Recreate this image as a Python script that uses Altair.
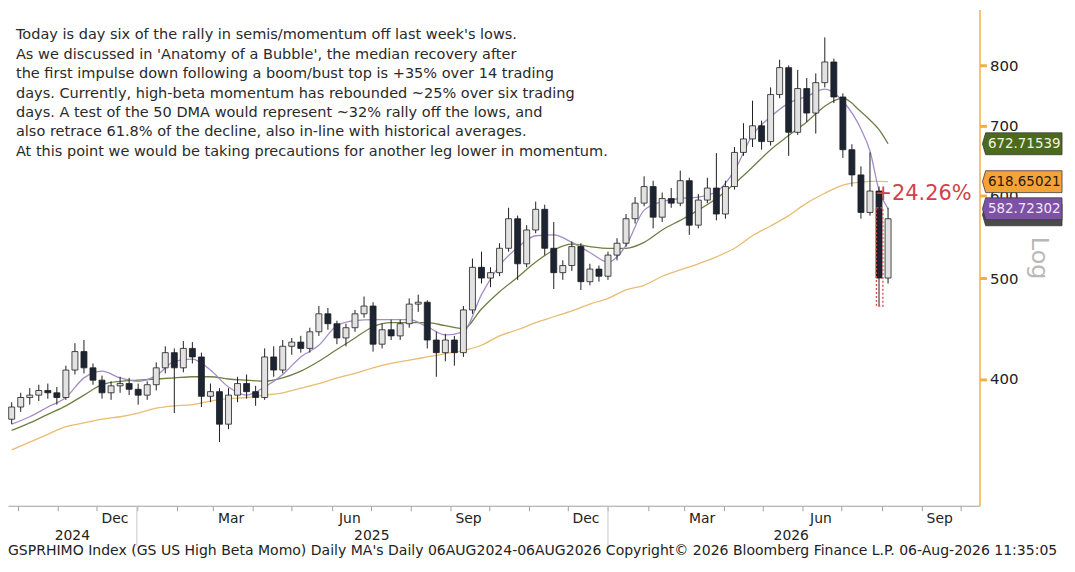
import altair as alt
import pandas as pd

FONT = "DejaVu Sans"

# ---------------- data ----------------
candle_dates = pd.date_range(end="2026-08-06", periods=98, freq="7D")

opens = [366, 376, 384, 386, 390, 388, 384, 408, 425, 410,
         399, 388, 394, 396, 391, 386, 395, 410, 424, 410,
         428, 420, 385, 389, 362, 386, 396, 389, 384, 420,
         408, 430, 434, 428, 444, 462, 452, 438, 448, 462,
         470, 432, 446, 440, 452, 472, 474, 436, 424, 436,
         424, 466, 512, 500, 506, 534, 570, 516, 556, 582,
         534, 506, 514, 536, 496, 510, 502, 526, 540, 570,
         590, 612, 572, 596, 590, 620, 562, 594, 610, 576,
         612, 660, 680, 700, 676, 750, 796, 690, 760, 720,
         770, 806, 746, 664, 628, 578, 606, 500]
highs = [380, 388, 392, 395, 396, 393, 412, 433, 436, 414,
         403, 398, 402, 401, 396, 398, 415, 430, 428, 435,
         434, 424, 396, 392, 392, 402, 404, 394, 428, 430,
         436, 438, 440, 448, 470, 468, 455, 452, 466, 480,
         474, 452, 456, 456, 478, 482, 476, 444, 442, 440,
         470, 522, 530, 512, 540, 584, 574, 562, 592, 588,
         566, 520, 542, 540, 516, 514, 530, 546, 576, 598,
         626, 620, 604, 610, 634, 624, 602, 624, 659, 620,
         668, 704, 740, 708, 762, 810, 800, 792, 778, 786,
         851, 812, 752, 672, 640, 660, 612, 584]
lows = [362, 372, 378, 381, 383, 378, 382, 404, 405, 395,
        383, 382, 388, 386, 378, 382, 390, 405, 371, 406,
        414, 376, 380, 348, 358, 380, 383, 377, 382, 402,
        405, 422, 424, 424, 440, 446, 432, 430, 444, 458,
        425, 428, 436, 436, 448, 464, 428, 402, 416, 412,
        420, 462, 494, 490, 502, 530, 498, 512, 552, 526,
        488, 498, 508, 487, 492, 496, 498, 520, 536, 564,
        586, 558, 566, 584, 586, 550, 558, 590, 568, 570,
        608, 655, 668, 664, 670, 744, 655, 686, 706, 688,
        762, 736, 652, 612, 570, 574, 470, 494]
closes = [376, 384, 386, 390, 388, 384, 408, 425, 410, 399,
          388, 394, 396, 391, 386, 395, 410, 424, 410, 428,
          420, 385, 389, 362, 386, 396, 389, 384, 420, 408,
          430, 434, 428, 444, 462, 452, 438, 448, 462, 470,
          432, 446, 440, 452, 472, 474, 436, 424, 436, 424,
          466, 512, 500, 506, 534, 570, 516, 556, 582, 534,
          506, 514, 536, 496, 510, 502, 526, 540, 570, 590,
          612, 572, 596, 590, 620, 562, 594, 610, 576, 612,
          660, 680, 700, 676, 750, 796, 690, 760, 720, 770,
          806, 746, 664, 628, 578, 606, 500, 570]

# moving averages, read at every second candle plus the last three
ma_index = list(range(0, 95, 2)) + [95, 96, 97]
ma20 = [362, 368, 376, 384, 401, 407, 401, 398, 403, 416,
        418, 408, 393, 386, 393, 404, 420, 431, 450, 455,
        456, 456, 456, 449, 441, 444, 482, 514, 535, 549,
        550, 541, 529, 518, 537, 581, 592, 596, 598, 605,
        634, 686, 714, 736, 747, 759, 739, 695,
        662, 607, 582.72302]
ma50 = [357, 363, 370, 377, 386, 395, 398, 399, 400, 401,
        402, 402, 400, 399, 398, 401, 407, 416, 427, 438,
        449, 453, 453, 453, 450, 447, 467, 485, 501, 518,
        532, 539, 536, 534, 534, 541, 556, 568, 581, 596,
        616, 639, 664, 685, 706, 731, 744, 722,
        709, 694, 672.71539]
ma200 = [342, 348, 354, 360, 363, 366, 368, 371, 375, 377,
         378, 381, 383, 384, 386, 388, 392, 396, 401, 405,
         410, 414, 417, 420, 423, 426, 431, 440, 446, 453,
         459, 465, 472, 478, 487, 492, 502, 509, 516, 524,
         534, 549, 561, 574, 590, 603, 614, 618,
         619, 619, 618.65021]

tag_values = [575.0, 672.71539, 618.65021, 582.72302]
tag_labels = ["", "672.71539", "618.65021", "582.72302"]
tag_fills = ["#4a4a4a", "#4b6a1e", "#f4a23a", "#7d52a6"]
tag_text_colors = ["#ffffff", "#eef5e0", "#2a1c08", "#efe6f7"]

y_tick_values = [400, 500, 600, 700, 800]

month_tick_dates = [alt.DateTime(year=y, month=m, date=1) for (y, m) in
                    [(2024, 10), (2024, 11), (2024, 12), (2025, 1), (2025, 2), (2025, 3),
                     (2025, 4), (2025, 5), (2025, 6), (2025, 7), (2025, 8), (2025, 9),
                     (2025, 10), (2025, 11), (2025, 12), (2026, 1), (2026, 2), (2026, 3),
                     (2026, 4), (2026, 5), (2026, 6), (2026, 7), (2026, 8), (2026, 9),
                     (2026, 10)]]
month_label_dates = ["2024-12-15", "2025-03-15", "2025-06-15", "2025-09-15",
                     "2025-12-15", "2026-03-15", "2026-06-15", "2026-09-15"]
month_labels = ["Dec", "Mar", "Jun", "Sep", "Dec", "Mar", "Jun", "Sep"]
year_label_dates = ["2024-11-12", "2025-07-02", "2026-05-23"]
year_labels = ["2024", "2025", "2026"]
year_break_dates = ["2025-01-01", "2026-01-01"]

rally_start_date = "2026-07-28"
rally_end_date = "2026-08-02"
rally_low = 470
rally_high = 584
rally_text = "+24.26%"

note_lines = [
    "Today is day six of the rally in semis/momentum off last week's lows.",
    "As we discussed in 'Anatomy of a Bubble', the median recovery after",
    "the first impulse down following a boom/bust top is +35% over 14 trading",
    "days. Currently, high-beta momentum has rebounded ~25% over six trading",
    "days. A test of the 50 DMA would represent ~32% rally off the lows, and",
    "also retrace 61.8% of the decline, also in-line with historical averages.",
    "At this point we would be taking precautions for another leg lower in momentum.",
]
footer_text = ("GSPRHIMO Index (GS US High Beta Momo) Daily MA's Daily 06AUG2024-06AUG2026 "
               "Copyright\u00a9 2026 Bloomberg Finance L.P. 06-Aug-2026 11:35:05")

# ---------------- frames ----------------
cdf = pd.DataFrame({"date": candle_dates, "open": opens, "high": highs,
                    "low": lows, "close": closes})
ma_dates = [candle_dates[i] for i in ma_index]
madf = pd.concat([
    pd.DataFrame({"date": ma_dates, "value": ma200, "series": "200"}),
    pd.DataFrame({"date": ma_dates, "value": ma50, "series": "50"}),
    pd.DataFrame({"date": ma_dates, "value": ma20, "series": "20"}),
])
tagdf = pd.DataFrame({"value": tag_values, "label": tag_labels,
                      "fill": tag_fills, "tcolor": tag_text_colors,
                      "order": list(range(len(tag_values)))})
mlabdf = pd.DataFrame({"date": pd.to_datetime(month_label_dates), "label": month_labels})
ylabdf = pd.DataFrame({"date": pd.to_datetime(year_label_dates), "label": year_labels})
ybrkdf = pd.DataFrame({"date": pd.to_datetime(year_break_dates)})
rallydf = pd.DataFrame({"d1": [pd.Timestamp(rally_start_date)], "d2": [pd.Timestamp(rally_end_date)],
                        "lo": [rally_low], "hi": [rally_high], "txt": [rally_text]})

# ---------------- scales / axes ----------------
x_scale = alt.Scale(domain=[alt.DateTime(year=2024, month=9, date=27),
                            alt.DateTime(year=2026, month=10, date=12)])
y_scale = alt.Scale(type="log", domain=[302.3, 905], nice=False)

x_axis = alt.Axis(values=month_tick_dates, labels=False, tickSize=5, tickColor="#a0a0a0",
                  domainColor="#a0a0a0", domainWidth=1, grid=False, title=None)
y_axis = alt.Axis(orient="right", values=y_tick_values, format="d", grid=False,
                  domainColor="#efb04a", domainWidth=1.5, tickColor="#efb04a",
                  tickSize=7, tickWidth=3, labelColor="#222222", labelFontSize=15,
                  labelFont=FONT, labelPadding=3, title=None)

W, H = 977, 499

wicks = alt.Chart(cdf).mark_rule(color="#1e1e1e", strokeWidth=1, clip=True).encode(
    x=alt.X("date:T", scale=x_scale, axis=x_axis),
    y=alt.Y("low:Q", scale=y_scale, axis=y_axis),
    y2="high:Q",
)
bodies = alt.Chart(cdf).mark_bar(size=6, stroke="#1e1e1e", strokeWidth=0.8, clip=True).encode(
    x="date:T",
    y="open:Q",
    y2="close:Q",
    fill=alt.condition("datum.close >= datum.open", alt.value("#e2e2e2"), alt.value("#1d2433")),
)
ma_lines = alt.Chart(madf).mark_line(strokeWidth=1.3, clip=True, interpolate="monotone").encode(
    x="date:T",
    y="value:Q",
    detail="series:N",
    color=alt.Color("series:N", scale=alt.Scale(domain=["200", "50", "20"],
                                                range=["#e9bc72", "#6d7f45", "#a48cc6"]),
                    legend=None),
)
rally_box = alt.Chart(rallydf).mark_rect(fillOpacity=0, stroke="#d9453f", strokeWidth=1.3,
                                         strokeDash=[2, 2]).encode(
    x="d1:T", x2="d2:T", y="lo:Q", y2="hi:Q")
rally_label = alt.Chart(rallydf).mark_text(font=FONT, fontSize=21, color="#d2414a",
                                           align="left", baseline="middle", dx=-2, dy=-14).encode(
    x="d1:T", y="hi:Q", text="txt:N")

tag_shape = "M -1 0 L -0.92 -0.275 L 1 -0.275 L 1 0.275 L -0.92 0.275 Z"
tags = alt.Chart(tagdf).mark_point(shape=tag_shape, size=6400, filled=True, opacity=1,
                                   stroke="#3a3a3a", strokeWidth=0.8).encode(
    x=alt.value(1020), y="value:Q", fill=alt.Fill("fill:N", scale=None), order="order:Q")
tag_text = alt.Chart(tagdf).mark_text(font=FONT, fontSize=13.5, align="center",
                                      baseline="middle", dx=2).encode(
    x=alt.value(1020), y="value:Q", text="label:N", color=alt.Color("tcolor:N", scale=None))
log_text = alt.Chart(pd.DataFrame({"t": ["Log"]})).mark_text(
    font=FONT, fontSize=24, color="#b8b8b8", angle=90, align="center", baseline="middle").encode(
    x=alt.value(1037), y=alt.value(250), text="t:N")

month_text = alt.Chart(mlabdf).mark_text(font=FONT, fontSize=14, color="#222222",
                                         baseline="middle").encode(
    x="date:T", y=alt.value(512), text="label:N")
year_text = alt.Chart(ylabdf).mark_text(font=FONT, fontSize=14, color="#222222",
                                        baseline="middle").encode(
    x="date:T", y=alt.value(529), text="label:N")
year_breaks = alt.Chart(ybrkdf).mark_rule(color="#c8c8c8", strokeWidth=1).encode(
    x="date:T", y=alt.value(499), y2=alt.value(540))

note = alt.Chart(pd.DataFrame({"t": [0]})).mark_text(
    text=note_lines, font=FONT, fontSize=14.6, color="#2a2a2a", align="left",
    baseline="alphabetic", lineHeight=19.5).encode(x=alt.value(8), y=alt.value(30))
footer = alt.Chart(pd.DataFrame({"t": [footer_text]})).mark_text(
    font=FONT, fontSize=14.1, color="#222222", align="left", baseline="middle").encode(
    x=alt.value(0), y=alt.value(545), text="t:N")

chart = alt.layer(
    ma_lines, wicks, bodies, rally_box, rally_label, tags, tag_text, log_text,
    month_text, year_text, year_breaks, note, footer,
).properties(
    width=W, height=H,
    padding={"left": 0, "top": 0, "right": 88, "bottom": 52},
    autosize=alt.AutoSizeParams(type="none"),
    background="white",
).configure_view(strokeWidth=0)

chart.save("out.html", embed_options={"renderer": "svg", "actions": False})
